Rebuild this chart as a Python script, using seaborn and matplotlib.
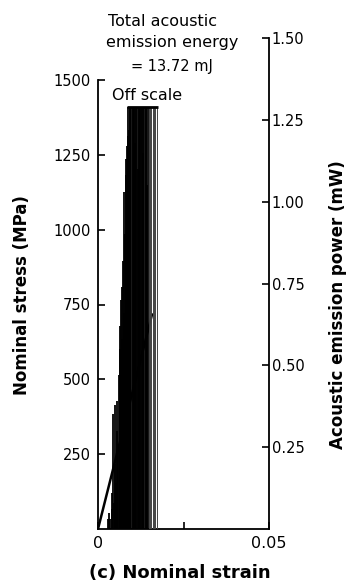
import matplotlib
matplotlib.use("Agg")
import matplotlib.pyplot as plt
import seaborn as sns
import pandas as pd

# Stress-strain response (linear up to failure)
stress_strain = [0.0, 0.0158]
stress_mpa = [0.0, 717.0]

# Acoustic emission power bursts (strain position, peak power in mW);
# peaks at 1.29 mW are the recorder's off-scale limit
ae_strain = [
    0.0030, 0.0033, 0.0036, 0.0040, 0.0042, 0.0045, 0.0047, 0.0049, 0.0051, 0.0053,
    0.0055, 0.0057, 0.0059, 0.0061, 0.0063, 0.0065, 0.0067, 0.0069, 0.0071, 0.0073,
    0.0075, 0.0077, 0.0079, 0.0081, 0.0083, 0.0085, 0.0087, 0.0089, 0.0091, 0.0093,
    0.0095, 0.0097, 0.0101, 0.0103, 0.0105, 0.0107, 0.0109, 0.0111,
    0.0115, 0.0117, 0.0119, 0.0121, 0.0123, 0.0127, 0.0129, 0.0131, 0.0133,
    0.0135, 0.0139, 0.0141, 0.0143, 0.0145,
]
ae_power = [
    0.03, 0.05, 0.03, 0.06, 0.11, 0.35, 0.08, 0.20, 0.38, 0.14,
    0.30, 0.39, 0.26, 0.47, 0.62, 0.55, 0.70, 0.58, 0.74, 0.82,
    0.66, 1.03, 0.90, 1.08, 1.13, 1.17, 1.20, 1.29, 1.22, 1.29,
    1.29, 1.29, 1.29, 1.29, 1.29, 1.18, 1.29, 1.29,
    1.29, 1.10, 1.29, 1.29, 1.29, 1.29, 1.29, 1.15, 1.29,
    1.29, 1.29, 1.29, 1.05, 1.29,
]
# Sparser late bursts just before fracture
ae_strain_late = [0.0148, 0.0152, 0.0156, 0.0160, 0.0164, 0.0168, 0.0172]
ae_power_late = [1.29, 1.29, 1.29, 1.29, 1.29, 1.29, 1.29]
off_scale_level = 1.29
off_scale_span = [0.0085, 0.0174]

stress_ticks = [250, 500, 750, 1000, 1250, 1500]
power_ticks = [0.25, 0.50, 0.75, 1.00, 1.25, 1.50]
power_tick_labels = ["0.25", "0.50", "0.75", "1.00", "1.25", "1.50"]
strain_ticks = [0, 0.025, 0.05]
strain_tick_labels = ["0", "", "0.05"]

sns.set_style("ticks")
plt.rcParams.update({
    "font.family": ["DejaVu Sans"],
    "text.color": "black",
    "xtick.color": "black",
    "ytick.color": "black",
    "xtick.direction": "in",
    "ytick.direction": "in",
})

W, H = 351, 584
fig = plt.figure(figsize=(W / 100, H / 100), dpi=100)
ax = fig.add_axes([98 / W, 55 / H, 171 / W, 491 / H])
ax2 = ax.twinx()

# stress axis: 1500 MPa sits below the top of the power axis
ax.set_xlim(0, 0.05)
ax.set_ylim(0, 1500 * 491 / 449)
ax2.set_ylim(0, 1.5)

df = pd.DataFrame({"strain": stress_strain, "stress": stress_mpa})
sns.lineplot(data=df, x="strain", y="stress", ax=ax, color="black", lw=1.8)

ax2.vlines(ae_strain, 0, ae_power, color="black", lw=1.3)
ax2.vlines(ae_strain_late, 0, ae_power_late, color="#444444", lw=0.7)
ax2.hlines(off_scale_level, off_scale_span[0], off_scale_span[1], color="black", lw=2)

for a in (ax, ax2):
    a.spines["top"].set_visible(False)
    for s in a.spines.values():
        s.set_linewidth(1.3)
        s.set_color("black")
ax.spines["right"].set_visible(False)
ax2.spines["left"].set_visible(False)
ax2.spines["bottom"].set_visible(False)
ax.spines["left"].set_bounds(0, 1500)

ax.set_yticks(stress_ticks)
ax.set_yticklabels([str(v) for v in stress_ticks])
ax.set_xticks(strain_ticks)
ax.set_xticklabels(strain_tick_labels)
ax2.set_yticks(power_ticks)
ax2.set_yticklabels(power_tick_labels)

ax.tick_params(axis="y", direction="in", length=5, width=1.2, pad=5, labelsize=10.5,
               colors="black")
ax.tick_params(axis="x", direction="in", length=5, width=1.2, pad=5, labelsize=11.5,
               colors="black")
ax2.tick_params(axis="y", direction="in", length=5, width=1.2, pad=2, labelsize=10.5,
                colors="black")
ax.set_xlabel("")
ax.set_ylabel("")
ax2.set_ylabel("")

fig.text(22 / W, 1 - 295 / H, "Nominal stress (MPa)", rotation=90, ha="center",
         va="center", fontsize=12, fontweight="bold")
fig.text(338 / W, 1 - 305 / H, "Acoustic emission power (mW)", rotation=90,
         ha="center", va="center", fontsize=12, fontweight="bold")
fig.text(180 / W, 1 - 573 / H, "(c) Nominal strain", ha="center", va="center",
         fontsize=13, fontweight="bold")

fig.text(162 / W, 1 - 21 / H, "Total acoustic", ha="center", va="center", fontsize=11.5)
fig.text(172 / W, 1 - 43 / H, "emission energy", ha="center", va="center", fontsize=11.5)
fig.text(172 / W, 1 - 66 / H, "= 13.72 mJ", ha="center", va="center", fontsize=10.5)
fig.text(147 / W, 1 - 95 / H, "Off scale", ha="center", va="center", fontsize=11.5)

fig.savefig("out.png", dpi=100, facecolor="white")
